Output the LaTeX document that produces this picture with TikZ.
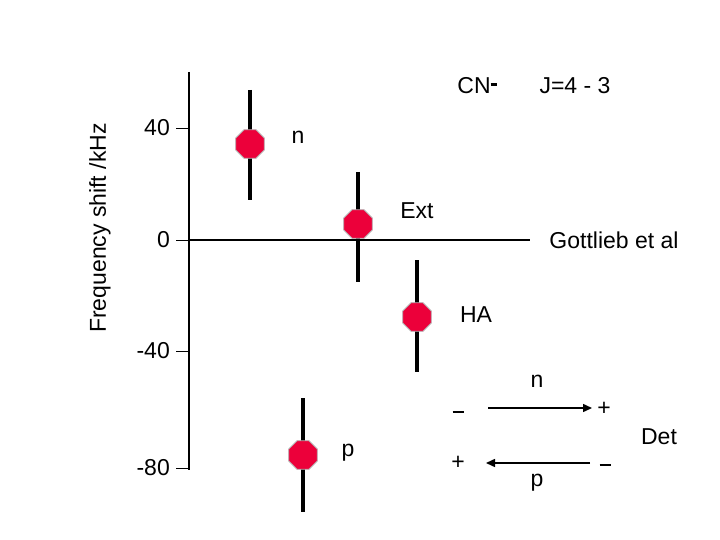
\documentclass[tikz,border=0pt]{standalone}
\usepackage{fontspec}
\setmainfont{Liberation Sans}
\usetikzlibrary{shapes.geometric,arrows.meta}
\definecolor{ptred}{RGB}{236,0,58}
\begin{document}
\begin{tikzpicture}[x=1pt,y=-1pt,
  lbl/.style={font=\fontsize{23}{26}\selectfont,inner sep=0pt},
  pt/.style={regular polygon,regular polygon sides=8,fill=ptred,draw=gray!60,line width=0.8pt,minimum size=31pt,inner sep=0pt},
  bar/.style={line width=3.5pt},
  ax/.style={line width=2pt},
  arr/.style={line width=1.5pt,-{Triangle[length=9pt,width=8pt]}}]
\useasboundingbox (0,0) rectangle (720,540);
% axis
\coordinate (at) at (189,72); \coordinate (ab) at (189,470);
\draw[ax] (at) -- (ab);
\coordinate (z1) at (189,240); \coordinate (z2) at (530,240);
\draw[ax] (z1) -- (z2);
\foreach \y/\t in {128/40,240/0,351/-40,468/-80}{
  \draw[line width=0.8pt] (176,\y) -- (189,\y);
  \node[lbl,anchor=east] at (170,\y) {\t};
}
\node[lbl,rotate=90] (yl) at (100,228) {Frequency shift /kHz};
% points
\foreach \n/\x/\y/\a/\b in {p1/250/144/90/200, p2/358/224/172/282, p3/417/317/260/372, p4/303/455/398/512}{
  \coordinate (\n t) at (\x,\a); \coordinate (\n b) at (\x,\b);
  \draw[bar] (\n t) -- (\n b);
  \node[pt] (\n) at (\x,\y) {};
}
\node[lbl] (ln) at (298,137) {n};
\node[lbl] (lext) at (417,211) {Ext};
\node[lbl] (lha) at (476,315) {HA};
\node[lbl] (lp) at (348,453) {p};
\node[lbl] (got) at (614,240) {Gottlieb et al};
\node[lbl] (cn) at (477,86) {CN\raisebox{8pt}{\rule{6pt}{2.5pt}}};
\node[lbl] (jj) at (575,86) {J=4 - 3};
% detection scheme
\node[lbl] (bn) at (537,381) {n};
\node[lbl] (m1) at (458,412) {\rule{11pt}{2pt}};
\node[lbl] (pl1) at (604,409) {+};
\node[lbl] (pl2) at (458,463) {+};
\node[lbl] (m2) at (605,465) {\rule{11pt}{2pt}};
\node[lbl] (bp) at (537,483) {p};
\node[lbl] (det) at (659,437) {Det};
\coordinate (a1s) at (488,408); \coordinate (a1e) at (592,408);
\coordinate (a2s) at (590,463); \coordinate (a2e) at (486,463);
\draw[arr] (a1s) -- (a1e);
\draw[arr] (a2s) -- (a2e);
\end{tikzpicture}
\end{document}
